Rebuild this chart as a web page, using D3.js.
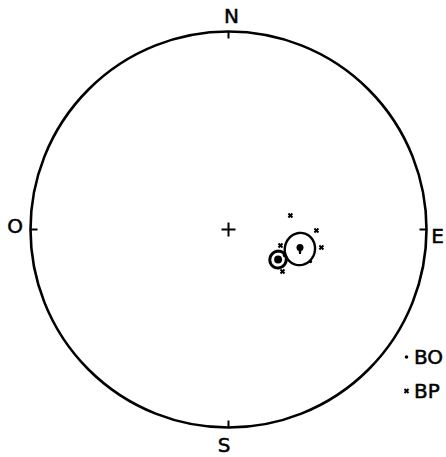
<!DOCTYPE html>
<html><head><meta charset="utf-8">
<script src="https://cdn.jsdelivr.net/npm/d3@7"></script>
<style>html,body{margin:0;padding:0;background:#fff;}svg{display:block;}</style>
</head><body>
<svg id="chart" width="446" height="457"></svg>
<script>
// Cardinal labels (French: O = Ouest)
const cardinals = [
  {label: "N", az: 0},
  {label: "E", az: 90},
  {label: "S", az: 180},
  {label: "O", az: 270}
];
// Site directions, lower hemisphere (declination, inclination in degrees)
const boDec = [114.9, 111.3];
const boInc = [64.5, 53.4];
const bpDec = [77.3, 90.7, 101.0, 107.1, 127.9];
const bpInc = [63.8, 53.4, 50.5, 67.6, 61.7];
// Mean directions with alpha95 (degrees)
const meanNames = ["BO", "BP"];
const meanDec = [121.2, 105.3];
const meanInc = [66.1, 59.3];
const meanA95 = [3.4, 6.4];
// Legend
const legendNames = ["BO", "BP"];

const svg = d3.select("#chart");
const cx = 228.5, cy = 229.5, R = 198;
const rScale = d3.scaleLinear().domain([0, 1]).range([0, R]);
const rad = Math.PI / 180;

function vec(dec, inc) {
  return [Math.cos(inc*rad)*Math.cos(dec*rad), Math.cos(inc*rad)*Math.sin(dec*rad), Math.sin(inc*rad)];
}
function projVec(v) {
  const [n, e, z] = v;
  const h = Math.hypot(n, e) || 1e-9;
  const rf = Math.sqrt(Math.max(0, 1 - Math.abs(z)));
  const r = rScale(rf);
  return [cx + r*e/h, cy - r*n/h];
}
function proj(dec, inc) { return projVec(vec(dec, inc)); }
function cone(dec, inc, a) {
  const m = vec(dec, inc);
  const u = [-Math.sin(dec*rad), Math.cos(dec*rad), 0];
  const v = [m[1]*u[2]-m[2]*u[1], m[2]*u[0]-m[0]*u[2], m[0]*u[1]-m[1]*u[0]];
  return d3.range(0, 361, 5).map(p => {
    const ca = Math.cos(a*rad), sa = Math.sin(a*rad);
    const w = [0,1,2].map(i => ca*m[i] + sa*(Math.cos(p*rad)*u[i] + Math.sin(p*rad)*v[i]));
    return projVec(w);
  });
}

const g = svg.append("g");
// Primitive circle
g.append("circle").attr("cx", cx).attr("cy", cy).attr("r", rScale(1))
  .attr("fill", "none").attr("stroke", "#000").attr("stroke-width", 2.6);

// Cardinal ticks and labels
const tickLen = 7;
cardinals.forEach(c => {
  const sx = Math.sin(c.az*rad), sy = -Math.cos(c.az*rad);
  g.append("line")
    .attr("x1", cx + sx*R).attr("y1", cy + sy*R)
    .attr("x2", cx + sx*(R - tickLen)).attr("y2", cy + sy*(R - tickLen))
    .attr("stroke", "#000").attr("stroke-width", 2);
});
const labelPos = {N: [231.5, 23], E: [437.5, 243], S: [224, 452], O: [15, 233]};
cardinals.forEach(c => {
  g.append("text").attr("x", labelPos[c.label][0]).attr("y", labelPos[c.label][1])
    .attr("text-anchor", "middle").attr("font-family", "DejaVu Sans, sans-serif")
    .attr("font-size", 20).attr("fill", "#000").attr("stroke", "#000").attr("stroke-width", 0.5)
    .text(c.label);
});

// Center cross
g.append("line").attr("x1", cx-7).attr("x2", cx+7).attr("y1", cy).attr("y2", cy).attr("stroke", "#000").attr("stroke-width", 2);
g.append("line").attr("x1", cx).attr("x2", cx).attr("y1", cy-7).attr("y2", cy+7).attr("stroke", "#000").attr("stroke-width", 2);

function cross(sel, x, y, s) {
  sel.append("path").attr("d", `M${x-s},${y-s}L${x+s},${y+s}M${x-s},${y+s}L${x+s},${y-s}`)
    .attr("stroke", "#000").attr("stroke-width", 2);
}

// alpha95 circles
const line = d3.line();
meanNames.forEach((name, i) => {
  g.append("path").attr("d", line(cone(meanDec[i], meanInc[i], meanA95[i])) + "Z")
    .attr("fill", "none").attr("stroke", "#000").attr("stroke-width", name === "BO" ? 3 : 2.4);
});

// BO sites (dots)
boDec.forEach((d, i) => {
  const [x, y] = proj(d, boInc[i]);
  g.append("circle").attr("cx", x).attr("cy", y).attr("r", 1.8).attr("fill", "#000");
});
// BP sites (crosses)
bpDec.forEach((d, i) => {
  const [x, y] = proj(d, bpInc[i]);
  cross(g, x, y, 2);
});

// Means
meanNames.forEach((name, i) => {
  const [x, y] = proj(meanDec[i], meanInc[i]);
  if (name === "BO") {
    g.append("circle").attr("cx", x).attr("cy", y).attr("r", 4).attr("fill", "#000");
  } else {
    g.append("circle").attr("cx", x).attr("cy", y - 1.5).attr("r", 3.5).attr("fill", "#000");
    g.append("path").attr("d", `M${x-1.5},${y}L${x+1.5},${y}L${x+1},${y+5}L${x-1},${y+5}Z`).attr("fill", "#000");
  }
});

// Legend
const legY = d3.scalePoint().domain(legendNames).range([357, 391]);
legendNames.forEach(name => {
  const y = legY(name);
  if (name === "BO") g.append("circle").attr("cx", 406.5).attr("cy", y).attr("r", 1.8).attr("fill", "#000");
  else cross(g, 406.5, y, 2);
  g.append("text").attr("x", 414).attr("y", y + 6.5).attr("font-family", "DejaVu Sans, sans-serif")
    .attr("font-size", 20).attr("fill", "#000").attr("stroke", "#000").attr("stroke-width", 0.5)
    .text(name);
});
</script>
</body></html>
